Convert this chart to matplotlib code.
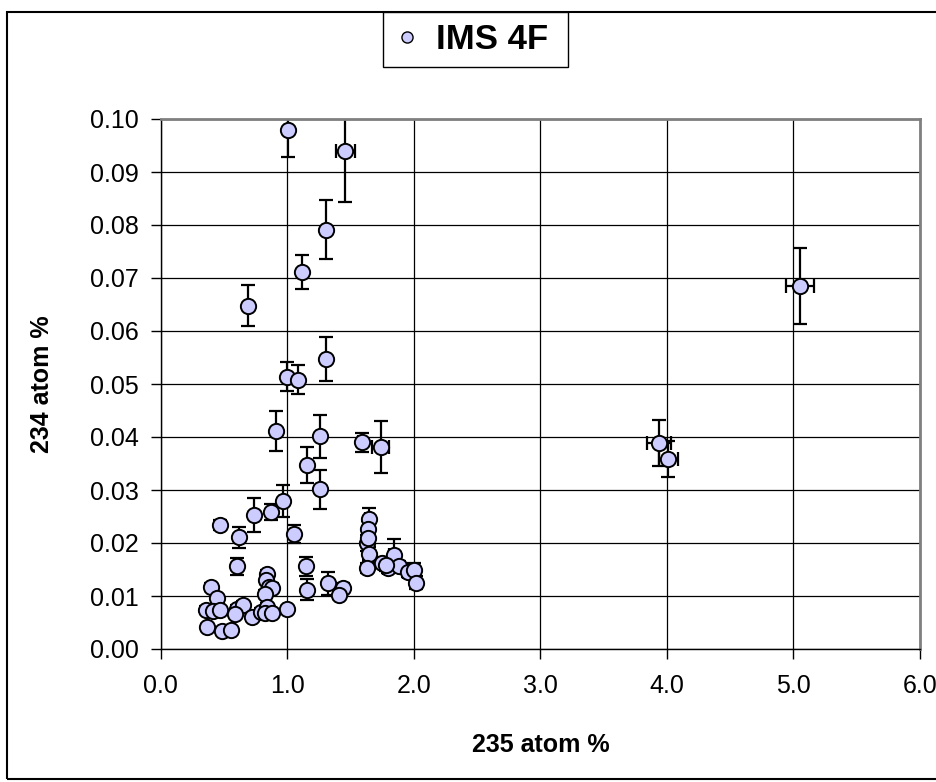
import matplotlib
matplotlib.use("Agg")
import matplotlib.pyplot as plt
from matplotlib.lines import Line2D
from matplotlib.patches import Rectangle
import numpy as np

plt.rcParams['font.family'] = ['Liberation Sans', 'DejaVu Sans']

# 235 atom %
x_vals = [1.005, 1.458, 1.303, 1.113, 0.689, 1.303, 1.000, 1.084, 0.913, 1.258,
          1.587, 1.737, 1.155, 1.258, 0.963, 0.872, 0.737, 0.466, 0.620, 1.050,
          1.645, 1.637, 1.630, 1.645, 1.630, 1.750, 1.795, 1.840, 1.882, 1.953,
          2.005, 2.018, 1.147, 1.157, 1.323, 1.441, 1.410, 0.995, 0.604, 0.397,
          0.444, 0.360, 0.415, 0.470, 0.365, 0.484, 0.555, 0.605, 0.651, 0.586,
          0.724, 0.792, 0.838, 0.835, 0.858, 0.876, 0.826, 0.840, 0.822, 0.876,
          3.935, 4.010, 5.050, 1.640, 1.780]
# 234 atom %
y_vals = [0.0980, 0.0940, 0.0791, 0.0712, 0.0648, 0.0547, 0.0514, 0.0508, 0.0412, 0.0401,
          0.0390, 0.0382, 0.0347, 0.0301, 0.0280, 0.0258, 0.0252, 0.0234, 0.0211, 0.0217,
          0.0245, 0.0227, 0.0200, 0.0180, 0.0153, 0.0163, 0.0153, 0.0177, 0.0156, 0.0145,
          0.0150, 0.0125, 0.0156, 0.0112, 0.0124, 0.0116, 0.0102, 0.0076, 0.0156, 0.0117,
          0.0096, 0.0074, 0.0072, 0.0074, 0.0042, 0.0034, 0.0035, 0.0076, 0.0083, 0.0066,
          0.0060, 0.0070, 0.0142, 0.0131, 0.0117, 0.0116, 0.0104, 0.0080, 0.0067, 0.0068,
          0.0389, 0.0359, 0.0685, 0.0210, 0.0158]
# uncertainty on 234 atom %
y_err = [0.0052, 0.0097, 0.0056, 0.0032, 0.0039, 0.0042, 0.0028, 0.0027, 0.0038, 0.0040,
         0.0018, 0.0049, 0.0034, 0.0036, 0.0030, 0.0015, 0.0032, 0.0010, 0.0020, 0.0017,
         0.0021, 0.0015, 0.0015, 0.0012, 0.0010, 0.0010, 0.0010, 0.0030, 0.0010, 0.0010,
         0.0012, 0.0012, 0.0018, 0.0020, 0.0022, 0.0008, 0.0008, 0.0006, 0.0016, 0.0008,
         0.0008, 0.0007, 0.0007, 0.0007, 0.0006, 0.0006, 0.0006, 0.0007, 0.0007, 0.0006,
         0.0006, 0.0007, 0.0008, 0.0008, 0.0008, 0.0008, 0.0008, 0.0007, 0.0006, 0.0006,
         0.0044, 0.0034, 0.0072, 0.0015, 0.0010]
# uncertainty on 235 atom %
x_err = [0.020, 0.075, 0.020, 0.020, 0.015, 0.020, 0.020, 0.020, 0.018, 0.020,
         0.025, 0.070, 0.020, 0.020, 0.020, 0.018, 0.015, 0.012, 0.015, 0.020,
         0.030, 0.030, 0.030, 0.030, 0.030, 0.030, 0.035, 0.035, 0.035, 0.035,
         0.040, 0.040, 0.020, 0.020, 0.025, 0.025, 0.025, 0.020, 0.015, 0.010,
         0.010, 0.010, 0.010, 0.010, 0.010, 0.012, 0.012, 0.015, 0.015, 0.015,
         0.015, 0.018, 0.018, 0.018, 0.018, 0.018, 0.018, 0.018, 0.018, 0.018,
         0.096, 0.075, 0.110, 0.030, 0.035]

series_name = "IMS 4F"
x_ticks = [0, 1, 2, 3, 4, 5, 6]
y_ticks = [0.00, 0.01, 0.02, 0.03, 0.04, 0.05, 0.06, 0.07, 0.08, 0.09, 0.10]

W, H = 937, 782
fig = plt.figure(figsize=(W / 100, H / 100), dpi=100)
fig.patch.set_facecolor('white')

left, right, top, bottom = 160.7, 920, 119, 649
ax = fig.add_axes([left / W, 1 - bottom / H, (right - left) / W, (bottom - top) / H])

fill = '#CCCCFF'
ax.errorbar(x_vals, y_vals, xerr=x_err, yerr=y_err, fmt='none', ecolor='black',
            elinewidth=1.6, capsize=5, capthick=1.6, zorder=2)
ax.plot(x_vals, y_vals, linestyle='none', marker='o', markersize=11,
        markerfacecolor=fill, markeredgecolor='black', markeredgewidth=1.4, zorder=3)

ax.set_xlim(0, 6)
ax.set_ylim(0, 0.10)
ax.set_xticks(x_ticks)
ax.set_yticks(y_ticks)
ax.set_xticklabels([f"{v:.1f}" for v in x_ticks])
ax.set_yticklabels([f"{v:.2f}" for v in y_ticks])
ax.tick_params(axis='both', direction='out', length=7, width=1, labelsize=18, color='black')
ax.tick_params(axis='x', pad=11)
ax.tick_params(axis='y', pad=9)
ax.grid(True, color='black', linewidth=0.9)
ax.set_axisbelow(True)
for s in ['top', 'right']:
    ax.spines[s].set_color('#808080')
    ax.spines[s].set_linewidth(2)
for s in ['left', 'bottom']:
    ax.spines[s].set_color('black')
    ax.spines[s].set_linewidth(1)

fig.text(0.5 * (left + right) / W, 1 - 745 / H, "235 atom %", ha='center', va='center',
         fontsize=18, fontweight='bold')
fig.text(42 / W, 1 - 0.5 * (top + bottom) / H, "234 atom %", ha='center', va='center',
         rotation=90, fontsize=18, fontweight='bold')

# legend box
lx0, lx1, ly0, ly1 = 383, 568, 12, 67
fig.add_artist(Rectangle((lx0 / W, 1 - ly1 / H), (lx1 - lx0) / W, (ly1 - ly0) / H,
                         transform=fig.transFigure, facecolor='white',
                         edgecolor='black', linewidth=1, zorder=5))
handle = Line2D([], [], linestyle='none', marker='o', markersize=8,
                markerfacecolor=fill, markeredgecolor='black', markeredgewidth=1)
leg = fig.legend([handle], [series_name], loc='center left',
                 bbox_to_anchor=(393 / W, 1 - 0.5 * (ly0 + ly1) / H), frameon=False,
                 prop={'size': 25, 'weight': 'bold'}, borderaxespad=0, borderpad=0,
                 handlelength=0.8, handletextpad=0.45)
leg.set_zorder(6)

fig.add_artist(Rectangle((7 / W, 3 / H), 1.2, 1 - 15 / H, transform=fig.transFigure,
                         fill=False, edgecolor='black', linewidth=1.5, zorder=0))

fig.savefig('out.png', dpi=100)
